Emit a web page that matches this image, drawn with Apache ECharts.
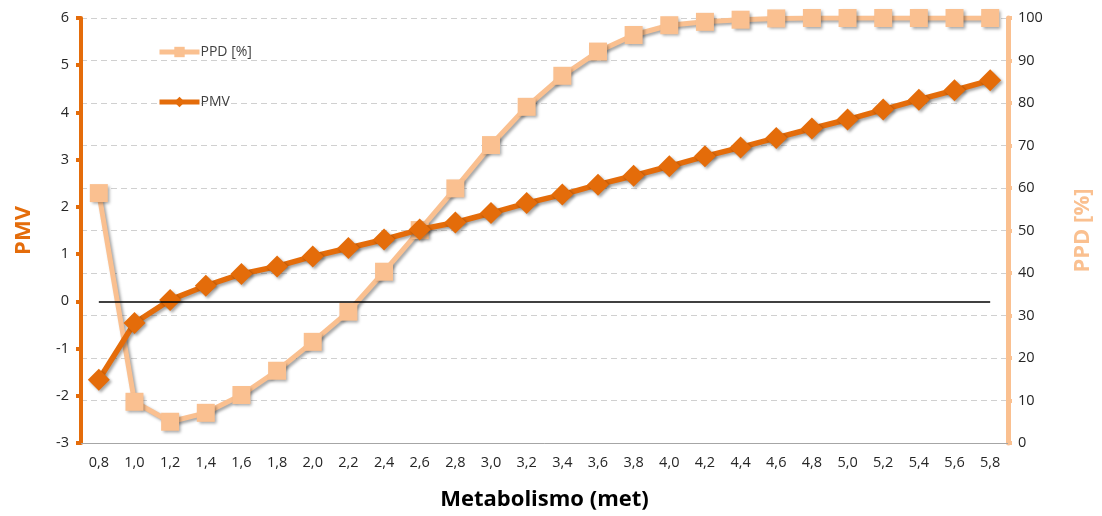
<!DOCTYPE html>
<html>
<head>
<meta charset="utf-8">
<script src="https://cdn.jsdelivr.net/npm/echarts@6/dist/echarts.min.js"></script>
<style>
  html, body { margin: 0; padding: 0; background: #ffffff; }
  #chart { width: 1102px; height: 516px; }
</style>
</head>
<body>
<div id="chart"></div>
<script>
// Metabolic rate (met) categories
const categories = ['0,8','1,0','1,2','1,4','1,6','1,8','2,0','2,2','2,4','2,6','2,8','3,0','3,2',
  '3,4','3,6','3,8','4,0','4,2','4,4','4,6','4,8','5,0','5,2','5,4','5,6','5,8'];

// Predicted Mean Vote
const pmvValues = [-1.66, -0.46, 0.03, 0.33, 0.58, 0.74, 0.95, 1.13, 1.31, 1.52, 1.67, 1.87, 2.08,
  2.26, 2.47, 2.66, 2.86, 3.07, 3.26, 3.46, 3.66, 3.85, 4.06, 4.27, 4.47, 4.68];

// Predicted Percentage of Dissatisfied [%]
const ppdValues = [58.8, 9.7, 5.0, 7.1, 11.3, 17.0, 23.8, 30.9, 40.3, 50.1, 59.9, 70.1, 79.1,
  86.4, 92.1, 96.0, 98.3, 99.1, 99.6, 99.9, 100, 100, 100, 100, 100, 100];

const PMV_COLOR = '#E46C0A';
const PPD_COLOR = '#FAC090';
const FONT = 'Open Sans';

const chart = echarts.init(document.getElementById('chart'), null, { renderer: 'canvas' });

const shadow = {
  shadowColor: 'rgba(0,0,0,0.35)',
  shadowBlur: 3,
  shadowOffsetX: 2,
  shadowOffsetY: 2
};

chart.setOption({
  animation: false,
  backgroundColor: '#ffffff',
  textStyle: { fontFamily: FONT },
  grid: { left: 81, right: 94, top: 18, bottom: 73, outerBoundsMode: 'none', containLabel: false },
  legend: {
    orient: 'vertical',
    left: 157,
    top: 45,
    padding: 0,
    itemGap: 36,
    itemWidth: 40,
    itemHeight: 13,
    data: ['PPD [%]', 'PMV'],
    lineStyle: { width: 5 },
    textStyle: { fontFamily: FONT, fontSize: 14, color: '#404040', padding: [0, 0, 0, -4] }
  },
  xAxis: {
    type: 'category',
    data: categories,
    boundaryGap: true,
    name: 'Metabolismo (met)',
    nameLocation: 'middle',
    nameGap: 46,
    nameTextStyle: { fontFamily: FONT, fontSize: 22, fontWeight: 'bold', color: '#000000' },
    axisLine: { show: true, onZero: false, lineStyle: { color: '#A6A6A6', width: 1 } },
    axisTick: { show: false },
    axisLabel: { fontFamily: FONT, fontSize: 14.5, color: '#262626', margin: 12, interval: 0 },
    splitLine: { show: false }
  },
  yAxis: [
    {
      type: 'value',
      position: 'left',
      min: -3,
      max: 6,
      interval: 1,
      name: 'PMV',
      nameLocation: 'middle',
      nameGap: 46,
      nameRotate: 90,
      nameTextStyle: { fontFamily: FONT, fontSize: 22, fontWeight: 'bold', color: PMV_COLOR },
      axisLine: { show: true, onZero: false, lineStyle: { color: PMV_COLOR, width: 4 } },
      axisTick: { show: true, length: 5, lineStyle: { color: PMV_COLOR, width: 4 } },
      axisLabel: { fontFamily: FONT, fontSize: 14.5, color: '#262626', margin: 12 },
      splitLine: { show: false }
    },
    {
      type: 'value',
      position: 'right',
      min: 0,
      max: 100,
      interval: 10,
      name: 'PPD [%]',
      nameLocation: 'middle',
      nameGap: 64,
      nameRotate: 90,
      nameTextStyle: { fontFamily: FONT, fontSize: 22, fontWeight: 'bold', color: PPD_COLOR },
      axisLine: { show: true, onZero: false, lineStyle: { color: PPD_COLOR, width: 5 } },
      axisTick: { show: true, length: 4, lineStyle: { color: PPD_COLOR, width: 4 } },
      axisLabel: { fontFamily: FONT, fontSize: 14.5, color: '#262626', margin: 10 },
      splitLine: { show: true, lineStyle: { color: '#D0D0D0', type: [6, 4], width: 1.2 } }
    }
  ],
  series: [
    {
      name: 'PPD [%]',
      type: 'line',
      yAxisIndex: 1,
      data: ppdValues,
      symbol: 'rect',
      symbolSize: 18,
      z: 2,
      lineStyle: Object.assign({ color: PPD_COLOR, width: 5 }, shadow),
      itemStyle: Object.assign({ color: PPD_COLOR }, shadow)
    },
    {
      name: 'PMV',
      type: 'line',
      yAxisIndex: 0,
      data: pmvValues,
      symbol: 'diamond',
      symbolSize: 22,
      z: 3,
      lineStyle: Object.assign({ color: PMV_COLOR, width: 5.5 }, shadow),
      itemStyle: Object.assign({ color: PMV_COLOR }, shadow),
      markLine: {
        silent: true,
        symbol: ['none', 'none'],
        label: { show: false },
        lineStyle: { color: '#000000', width: 1.5, type: 'solid' },
        data: [[
          { coord: [categories[0], 0] },
          { coord: [categories[categories.length - 1], 0] }
        ]]
      }
    }
  ]
});
</script>
</body>
</html>
